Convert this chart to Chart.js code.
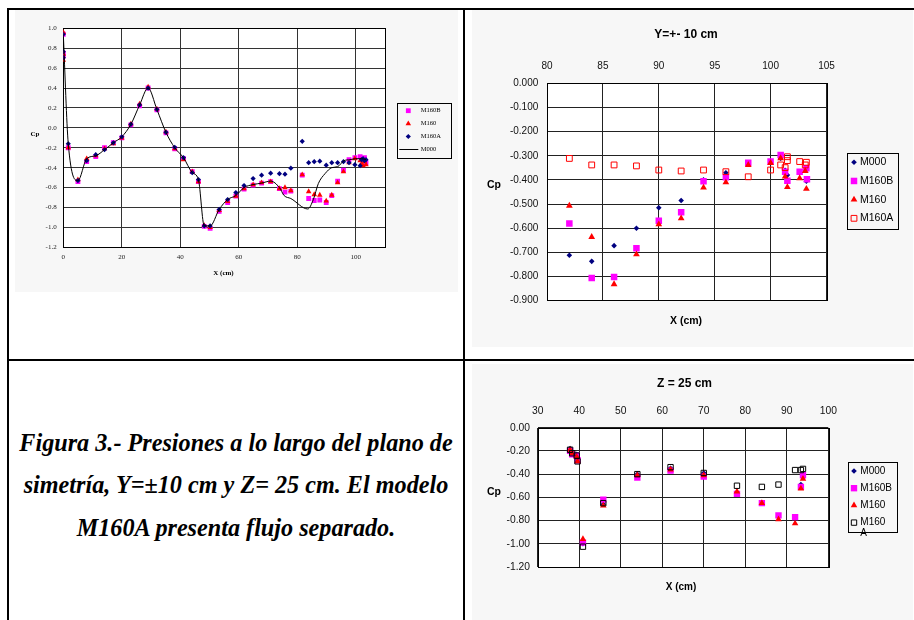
<!DOCTYPE html>
<html><head><meta charset="utf-8">
<script src="https://cdn.jsdelivr.net/npm/chart.js@4.4.1/dist/chart.umd.min.js"></script>
<style>
html,body{margin:0;padding:0;background:#fff;width:914px;height:620px;overflow:hidden;}
.ln{position:absolute;background:#000;}
canvas{position:absolute;background:#f7f7f7;}
#cap{position:absolute;left:9px;width:454px;top:421.5px;text-align:center;font:italic bold 24.2px "Liberation Serif","Times New Roman",serif;line-height:42.7px;color:#000;white-space:nowrap;}
</style></head><body>
<div class="ln" style="left:7px;top:8px;width:907px;height:2px"></div>
<div class="ln" style="left:7px;top:8px;width:2px;height:612px"></div>
<div class="ln" style="left:463px;top:8px;width:2px;height:612px"></div>
<div class="ln" style="left:7px;top:359px;width:907px;height:2px"></div>
<canvas id="c1" width="443" height="282" style="left:15px;top:10px"></canvas>
<canvas id="c2" width="441" height="337" style="left:472px;top:10px"></canvas>
<canvas id="c3" width="441" height="256" style="left:472px;top:364px"></canvas>
<div id="cap">Figura 3.- Presiones a lo largo del plano de<br>simetría, Y=±10 cm y Z= 25 cm. El modelo<br>M160A presenta flujo separado.</div>
<script>
// ---------- Chart 1: plano de simetría ----------
const c1X      = [0, 0, 0, 1.7, 5.0, 8.0, 11.1, 14.1, 17.1, 20.0, 23.1, 26.1, 29.0, 32.0, 35.1, 38.1, 41.1, 44.1, 46.2, 48.2, 50.2, 53.3, 56.2, 59.0, 61.8, 64.9, 67.8, 70.9, 73.9, 75.8, 77.8, 81.7, 83.9, 85.8, 87.7, 89.9, 91.8, 93.8, 95.8, 97.7, 99.7, 101.5, 102.0, 102.5, 103.0, 103.5];
const c1M160B  = [0.94, 0.75, 0.72, -0.20, -0.54, -0.34, -0.29, -0.20, -0.15, -0.10, 0.03, 0.22, 0.40, 0.18, -0.05, -0.21, -0.31, -0.44, -0.54, -0.99, -1.01, -0.84, -0.75, -0.685, -0.615, -0.575, -0.555, -0.54, -0.61, -0.645, -0.635, -0.475, -0.71, -0.73, -0.725, -0.75, -0.68, -0.535, -0.425, -0.32, -0.30, -0.29, -0.31, -0.33, -0.30, -0.35];
const c1M160   = [0.96, 0.74, 0.68, -0.20, -0.52, -0.31, -0.28, -0.21, -0.16, -0.10, 0.04, 0.24, 0.41, 0.19, -0.04, -0.21, -0.32, -0.44, -0.54, -0.98, -1.00, -0.83, -0.74, -0.685, -0.61, -0.57, -0.55, -0.54, -0.61, -0.60, -0.63, -0.47, -0.64, -0.67, -0.675, -0.735, -0.675, -0.55, -0.44, -0.35, -0.31, -0.33, -0.36, -0.38, -0.34, -0.37];
const c1M160A  = [0.94, 0.765, 0.705, -0.16, -0.53, -0.33, -0.27, -0.22, -0.15, -0.09, 0.035, 0.23, 0.40, 0.185, -0.045, -0.195, -0.30, -0.45, -0.52, -0.985, -0.985, -0.82, -0.72, -0.65, -0.58, -0.51, -0.475, -0.455, -0.46, -0.465, -0.405, -0.135, -0.35, -0.34, -0.335, -0.375, -0.35, -0.35, -0.34, -0.35, -0.37, -0.38, -0.32, -0.31, -0.33, -0.32];
const c1M000X  = [0, 1.7, 5.0, 8.0, 11.1, 14.1, 17.1, 20.0, 23.1, 26.1, 29.0, 32.0, 35.1, 38.1, 41.1, 44.1, 46.2, 48.2, 50.2, 53.3, 56.2, 59.0, 61.8, 64.9, 67.8, 70.9, 73.9, 75.5, 77.8, 83.6, 85.5, 87.2, 89.5, 91.8, 93.8, 96.0, 98.0, 100.0, 102.0, 103.5];
const c1M000   = [0.94, -0.16, -0.53, -0.31, -0.28, -0.22, -0.15, -0.09, 0.035, 0.23, 0.40, 0.185, -0.045, -0.20, -0.30, -0.45, -0.52, -0.985, -0.985, -0.82, -0.72, -0.68, -0.60, -0.57, -0.555, -0.535, -0.60, -0.68, -0.71, -0.815, -0.72, -0.56, -0.46, -0.40, -0.39, -0.33, -0.32, -0.31, -0.31, -0.32];
const c1XTicks = [0, 20, 40, 60, 80, 100];
const c1YTicks = [1.0, 0.8, 0.6, 0.4, 0.2, 0.0, -0.2, -0.4, -0.6, -0.8, -1.0, -1.2];

// ---------- Chart 2: Y=+- 10 cm ----------
const c2M000X  = [82, 84, 86, 88, 90, 92, 94, 96, 98, 100, 100.9, 101.3, 101.5, 102.6, 103.2];
const c2M000   = [-0.712, -0.737, -0.672, -0.600, -0.515, -0.485, -0.40, -0.37, -0.33, -0.33, -0.31, -0.36, -0.38, -0.37, -0.405];
const c2M160BX = [82, 84, 86, 88, 90, 92, 94, 96, 98, 100, 100.9, 101.3, 101.5, 102.6, 103.2, 103.25];
const c2M160B  = [-0.58, -0.806, -0.802, -0.683, -0.569, -0.534, -0.405, -0.389, -0.329, -0.324, -0.297, -0.366, -0.403, -0.366, -0.352, -0.397];
const c2M160X  = [82, 84, 86, 88, 90, 92, 94, 96, 98, 100, 100.9, 101.3, 101.5, 102.6, 103.1, 103.2];
const c2M160   = [-0.507, -0.636, -0.832, -0.708, -0.584, -0.559, -0.432, -0.41, -0.338, -0.33, -0.31, -0.386, -0.43, -0.393, -0.363, -0.437];
const c2M160AX = [82, 84, 86, 88, 90, 92, 94, 96, 98, 100, 100.9, 101.3, 101.5, 101.5, 102.6, 103.1, 103.2];
const c2M160A  = [-0.311, -0.338, -0.338, -0.342, -0.359, -0.363, -0.359, -0.366, -0.387, -0.359, -0.338, -0.349, -0.304, -0.32, -0.324, -0.338, -0.327];
const c2XTicks = [80, 85, 90, 95, 100, 105];
const c2YTicks = [0, -0.1, -0.2, -0.3, -0.4, -0.5, -0.6, -0.7, -0.8, -0.9];

// ---------- Chart 3: Z = 25 cm ----------
const c3X      = [37.8, 38.3, 39.4, 39.6, 40.9, 45.8, 54, 62, 70, 78, 84, 88, 92, 93.4, 93.9];
const c3M000   = [-0.18, -0.22, -0.23, -0.27, -1.00, -0.66, -0.40, -0.35, -0.39, -0.56, -0.65, -0.77, -0.78, -0.49, -0.40];
const c3M160B  = [-0.20, -0.23, -0.24, -0.28, -0.99, -0.62, -0.43, -0.37, -0.42, -0.57, -0.65, -0.755, -0.77, -0.51, -0.41];
const c3M160   = [-0.19, -0.22, -0.25, -0.29, -0.96, -0.67, -0.41, -0.36, -0.41, -0.55, -0.65, -0.79, -0.825, -0.525, -0.44];
const c3M160A  = [-0.19, -0.22, -0.24, -0.29, -1.025, -0.65, -0.40, -0.34, -0.39, -0.50, -0.51, -0.49, -0.365, -0.365, -0.355];
const c3XTicks = [30, 40, 50, 60, 70, 80, 90, 100];
const c3YTicks = [0, -0.2, -0.4, -0.6, -0.8, -1.0, -1.2];

// ---------- styling ----------
const SERIF = '"Liberation Serif","Times New Roman",serif';
const SANS = '"Liberation Sans",Arial,sans-serif';
const NAVY = '#000080', MAG = '#ff00ff', RED = '#ff0000';

function pts(xs, ys) { return xs.map((x, i) => ({x: x, y: ys[i]})); }
function fixedTicks(list) { return function (scale) { scale.ticks = list.map(v => ({value: v})); }; }
function fmt(d) { return function (v) { if (Math.abs(v) < 1e-9) v = 0; return Number(v).toFixed(d); }; }

function markerPath(ctx, style, r, x, y) {
  ctx.beginPath();
  if (style === 'rect') {
    const s = r * Math.SQRT1_2; ctx.rect(x - s, y - s, 2 * s, 2 * s);
  } else if (style === 'rectRot') {
    ctx.moveTo(x - r, y); ctx.lineTo(x, y - r); ctx.lineTo(x + r, y); ctx.lineTo(x, y + r); ctx.closePath();
  } else if (style === 'triangle') {
    for (let k = 0; k < 3; k++) {
      const a = k * 2 * Math.PI / 3;
      const px = x + Math.sin(a) * r, py = y - Math.cos(a) * r;
      if (k === 0) ctx.moveTo(px, py); else ctx.lineTo(px, py);
    }
    ctx.closePath();
  } else {
    ctx.arc(x, y, r, 0, Math.PI * 2);
  }
}

// per-canvas decoration: frame, axis titles, legend
const DECO = {
  c1: {
    frame: '#000',
    texts: [
      {text: 'Cp', at: 'left', off: 28.3, shift: -3.8, font: 'bold 7px ' + SERIF},
      {text: 'X (cm)', at: 'bottom', off: 26, shift: -0.7, font: 'bold 7px ' + SERIF}
    ],
    legend: {x: 381.7, y: 92.7, w: 54, h: 55.3, y0: 8, rowH: 12.9, mx: 11.6, tx: 24, lx0: 2.6, lx1: 21.6,
             font: '6.5px ' + SERIF, lines: {}}
  },
  c2: {
    frame: '#000',
    texts: [
      {text: 'Y=+- 10 cm', at: 'top', off: 48.3, shift: -0.7, font: 'bold 12px ' + SANS},
      {text: 'Cp', at: 'left', off: 53, shift: -7, font: 'bold 10.5px ' + SANS},
      {text: 'X (cm)', at: 'bottom', off: 20.3, shift: -0.7, font: 'bold 10.5px ' + SANS}
    ],
    legend: {x: 375, y: 142.7, w: 50.7, h: 75.6, y0: 9.6, rowH: 18.67, mx: 7, tx: 13,
             font: '10.5px ' + SANS, lines: {}}
  },
  c3: {
    frame: '#000',
    texts: [
      {text: 'Z = 25 cm', at: 'top', off: 44.4, shift: 1.5, font: 'bold 12px ' + SANS},
      {text: 'Cp', at: 'left', off: 43.7, shift: -5, font: 'bold 10.5px ' + SANS},
      {text: 'X (cm)', at: 'bottom', off: 20.7, shift: -2, font: 'bold 10px ' + SANS}
    ],
    legend: {x: 375.7, y: 98.3, w: 49.3, h: 69.7, y0: 8.7, rowH: 17.2, mx: 6.3, tx: 12.6, wrapH: 10.6,
             font: '10px ' + SANS, lines: {3: ['M160', 'A']}}
  }
};

const decoPlugin = {
  id: 'deco',
  beforeDraw(chart) {
    const a = chart.chartArea, ctx = chart.ctx;
    ctx.save(); ctx.fillStyle = '#fff';
    ctx.fillRect(a.left, a.top, a.right - a.left, a.bottom - a.top);
    ctx.restore();
  },
  beforeDatasetsDraw(chart) {
    const d = DECO[chart.canvas.id]; if (!d) return;
    const a = chart.chartArea, ctx = chart.ctx;
    ctx.save(); ctx.strokeStyle = d.frame; ctx.lineWidth = 1;
    ctx.strokeRect(Math.round(a.left) + 0.5, Math.round(a.top) + 0.5, Math.round(a.right - a.left), Math.round(a.bottom - a.top));
    ctx.restore();
  },
  afterDraw(chart) {
    const d = DECO[chart.canvas.id]; if (!d) return;
    const a = chart.chartArea, ctx = chart.ctx;
    const cx = (a.left + a.right) / 2, cy = (a.top + a.bottom) / 2;
    ctx.save();
    ctx.fillStyle = '#000'; ctx.textAlign = 'center'; ctx.textBaseline = 'middle';
    d.texts.forEach(t => {
      ctx.font = t.font;
      let x, y;
      if (t.at === 'top') { x = cx + t.shift; y = a.top - t.off; }
      else if (t.at === 'bottom') { x = cx + t.shift; y = a.bottom + t.off; }
      else { x = a.left - t.off; y = cy + t.shift; }
      ctx.fillText(t.text, x, y);
    });
    // legend
    const L = d.legend;
    ctx.strokeStyle = '#000'; ctx.lineWidth = 1;
    ctx.strokeRect(Math.round(L.x) + 0.5, Math.round(L.y) + 0.5, Math.round(L.w), Math.round(L.h));
    ctx.font = L.font; ctx.textAlign = 'left';
    chart.data.datasets.forEach((ds, i) => {
      const y = L.y + L.y0 + i * L.rowH;
      if (ds.showLine) {
        ctx.strokeStyle = ds.borderColor; ctx.lineWidth = ds.borderWidth || 1;
        ctx.beginPath(); ctx.moveTo(L.x + L.lx0, Math.round(y) + 0.5); ctx.lineTo(L.x + L.lx1, Math.round(y) + 0.5); ctx.stroke();
      } else {
        markerPath(ctx, ds.pointStyle, ds.pointRadius, L.x + L.mx, y);
        ctx.fillStyle = ds.pointBackgroundColor; ctx.fill();
        if (ds.pointBorderWidth > 0) { ctx.strokeStyle = ds.pointBorderColor; ctx.lineWidth = ds.pointBorderWidth; ctx.stroke(); }
      }
      ctx.fillStyle = '#000';
      const lines = L.lines[i] || [ds.label];
      lines.forEach((s, k) => ctx.fillText(s, L.x + L.tx, y + k * (L.wrapH || 0)));
    });
    ctx.restore();
  }
};

function axis(opts) {
  return {
    type: 'linear', position: opts.position, min: opts.min, max: opts.max,
    afterBuildTicks: fixedTicks(opts.ticks),
    afterFit: opts.fit,
    ticks: {font: opts.font, color: opts.color, padding: opts.pad, maxRotation: 0, autoSkip: false,
            callback: opts.callback},
    grid: {color: opts.grid, lineWidth: 1, drawTicks: false},
    border: {display: false}
  };
}

function pointDs(label, data, style, r, color, fill, order) {
  return {label: label, data: data, pointStyle: style, pointRadius: r, pointHoverRadius: r,
          pointBackgroundColor: fill, pointBorderColor: color, pointBorderWidth: fill === color ? 0 : 1,
          backgroundColor: fill, borderColor: color, showLine: false, order: order};
}

function make(id, datasets, xs, ys, padding) {
  return new Chart(document.getElementById(id), {
    type: 'scatter',
    data: {datasets: datasets},
    options: {
      responsive: false, animation: false, devicePixelRatio: 1,
      layout: {padding: padding},
      plugins: {legend: {display: false}, tooltip: {enabled: false}, title: {display: false}},
      scales: {x: axis(xs), y: axis(ys)},
      events: []
    },
    plugins: [decoPlugin]
  });
}

const T = 'rgba(0,0,0,0)';

// Chart 1
make('c1', [
  pointDs('M160B', pts(c1X, c1M160B), 'rect', 3.4, MAG, MAG, 3),
  pointDs('M160', pts(c1X, c1M160), 'triangle', 3.2, RED, RED, 2),
  pointDs('M160A', pts(c1X, c1M160A), 'rectRot', 2.6, NAVY, NAVY, 1),
  {label: 'M000', data: pts(c1M000X, c1M000), showLine: true, borderColor: '#000', borderWidth: 1,
   pointRadius: 0, pointHoverRadius: 0, tension: 0.4, cubicInterpolationMode: 'monotone', order: 0}
],
  {position: 'bottom', min: 0, max: 110, ticks: c1XTicks, fit: s => { s.height = 44.7; },
   font: {family: SERIF, size: 7}, color: '#222', pad: 6, grid: '#333', callback: fmt(0)},
  {position: 'left', min: -1.2, max: 1.0, ticks: c1YTicks, fit: s => { s.width = 48.3; },
   font: {family: SERIF, size: 7}, color: '#222', pad: 6.6, grid: '#333', callback: fmt(1)},
  {left: 0, top: 18.3, right: 73, bottom: 0});

// Chart 2
make('c2', [
  pointDs('M000', pts(c2M000X, c2M000), 'rectRot', 2.8, NAVY, NAVY, 3),
  pointDs('M160B', pts(c2M160BX, c2M160B), 'rect', 4.6, MAG, MAG, 2),
  pointDs('M160', pts(c2M160X, c2M160), 'triangle', 3.9, RED, RED, 1),
  pointDs('M160A', pts(c2M160AX, c2M160A), 'rect', 4.1, RED, T, 0)
],
  {position: 'top', min: 80, max: 105, ticks: c2XTicks, fit: s => { s.height = 73.3; },
   font: {family: SANS, size: 10}, color: '#111', pad: 10.6, grid: '#222', callback: fmt(0)},
  {position: 'left', min: -0.9, max: 0, ticks: c2YTicks, fit: s => { s.width = 75; },
   font: {family: SANS, size: 10}, color: '#111', pad: 8.7, grid: '#222', callback: fmt(3)},
  {left: 0, top: 0, right: 86.5, bottom: 46.3});

// Chart 3
make('c3', [
  pointDs('M000', pts(c3X, c3M000), 'rectRot', 2.8, NAVY, NAVY, 3),
  pointDs('M160B', pts(c3X, c3M160B), 'rect', 4.5, MAG, MAG, 2),
  pointDs('M160', pts(c3X, c3M160), 'triangle', 3.8, RED, RED, 1),
  pointDs('M160A', pts(c3X, c3M160A), 'rect', 3.8, '#000', T, 0)
],
  {position: 'top', min: 30, max: 100, ticks: c3XTicks, fit: s => { s.height = 63.7; },
   font: {family: SANS, size: 10.3}, color: '#111', pad: 10, grid: '#222', callback: fmt(0)},
  {position: 'left', min: -1.2, max: 0, ticks: c3YTicks, fit: s => { s.width = 65.7; },
   font: {family: SANS, size: 10.3}, color: '#111', pad: 7.7, grid: '#222', callback: fmt(2)},
  {left: 0, top: 0, right: 84.7, bottom: 53});
</script>
</body></html>
